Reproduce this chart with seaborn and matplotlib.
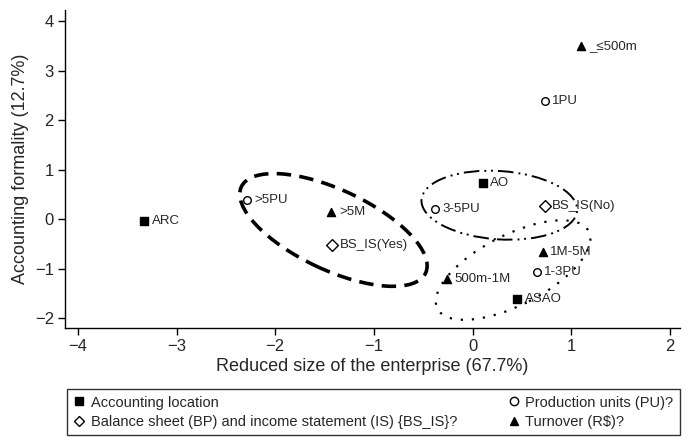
import numpy as np
import pandas as pd
import matplotlib
matplotlib.use("Agg")
import matplotlib.pyplot as plt
from matplotlib.patches import Ellipse
from matplotlib.lines import Line2D
from matplotlib.transforms import Affine2D
import seaborn as sns

# category points
labels = ["ARC", "AO", "ASAO",
          ">5PU", "3-5PU", "1PU", "1-3PU",
          "BS_IS(Yes)", "BS_IS(No)",
          ">5M", "_\u2264500m", "1M-5M", "500m-1M"]
dim1 = [-3.33, 0.10, 0.45,
        -2.29, -0.38, 0.73, 0.65,
        -1.42, 0.73,
        -1.43, 1.10, 0.71, -0.26]
dim2 = [-0.04, 0.73, -1.61,
        0.38, 0.20, 2.39, -1.07,
        -0.52, 0.27,
        0.14, 3.50, -0.67, -1.21]
group = ["loc", "loc", "loc",
         "pu", "pu", "pu", "pu",
         "bs", "bs",
         "to", "to", "to", "to"]

legend_names = {
    "loc": "Accounting location",
    "pu": "Production units (PU)?",
    "bs": "Balance sheet (BP) and income statement (IS) {BS_IS}?",
    "to": "Turnover (R$)?",
}
marker_of = {"loc": "s", "pu": "o", "bs": "D", "to": "^"}
filled = {"loc": True, "pu": False, "bs": False, "to": True}
msize = {"loc": 28, "pu": 30, "bs": 36, "to": 34}

# cluster ellipses: centre x, centre y, semi axes (in y units), angle
ell_cx = [-1.41, 0.27, 0.41]
ell_cy = [-0.22, 0.28, -1.03]
ell_a = [2.06, 1.58, 1.72]
ell_b = [0.81, 0.69, 0.71]
ell_ang = [-25, -4, 27]
ell_ls = [(0, (4, 2.3)), (0, (8, 2.6, 1, 2.4, 1, 2.6)), (0, (1, 4))]
ell_lw = [2.6, 1.4, 1.6]

df = pd.DataFrame({"label": labels, "x": dim1, "y": dim2, "group": group})

sns.set_style("ticks")
plt.rcParams["font.family"] = ["Liberation Sans", "DejaVu Sans"]

fig = plt.figure(figsize=(6.91, 4.42), dpi=100)
ax = fig.add_axes([0.094, 0.258, 0.89, 0.719])

for g in ["loc", "pu", "bs", "to"]:
    sub = df[df["group"] == g]
    sns.scatterplot(data=sub, x="x", y="y", ax=ax, marker=marker_of[g],
                    s=msize[g], color="black" if filled[g] else "white",
                    edgecolor="black", linewidth=1.0, legend=False, zorder=3)

for _, r in df.iterrows():
    ax.annotate(r["label"], (r["x"], r["y"]), xytext=(5.5, 0),
                textcoords="offset points", va="center", ha="left",
                fontsize=9.5)

ax.set_xlim(-4.13, 2.1)
ax.set_ylim(-2.2, 4.22)

# x unit is about twice the pixels of a y unit
for cx, cy, a, b, ang, ls, lw in zip(ell_cx, ell_cy, ell_a, ell_b, ell_ang, ell_ls, ell_lw):
    e = Ellipse((0, 0), 2 * a, 2 * b, angle=ang, fill=False, edgecolor="black",
                linestyle=ls, linewidth=lw,
                transform=Affine2D().scale(0.5, 1).translate(cx, cy) + ax.transData)
    ax.add_patch(e)

ax.set_xticks([-4, -3, -2, -1, 0, 1, 2])
ax.set_yticks([-2, -1, 0, 1, 2, 3, 4])
ax.tick_params(labelsize=12, length=5, width=1, color="black", pad=3)
ax.set_xlabel("Reduced size of the enterprise (67.7%)", fontsize=13, labelpad=3)
ax.set_ylabel("Accounting formality (12.7%)", fontsize=13, labelpad=4)
for sp in ["left", "bottom"]:
    ax.spines[sp].set_linewidth(1)
    ax.spines[sp].set_color("black")
sns.despine(ax=ax)

handles = []
for g in ["loc", "bs", "pu", "to"]:
    handles.append(Line2D([], [], linestyle="none", marker=marker_of[g],
                          markersize=6 if g != "bs" else 5.5,
                          markerfacecolor="black" if filled[g] else "white",
                          markeredgecolor="black", label=legend_names[g]))
leg = fig.legend(handles=handles, ncol=2, loc="upper left",
                 bbox_to_anchor=(0.097, 0.12, 0.887, 0.0), mode="expand",
                 fancybox=False, edgecolor="black", fontsize=10.5,
                 handlelength=0.8, handletextpad=0.4, borderaxespad=0,
                 labelspacing=0.35, borderpad=0.45, columnspacing=0.3)
leg.get_frame().set_linewidth(1)

fig.savefig("out.png", dpi=100)
